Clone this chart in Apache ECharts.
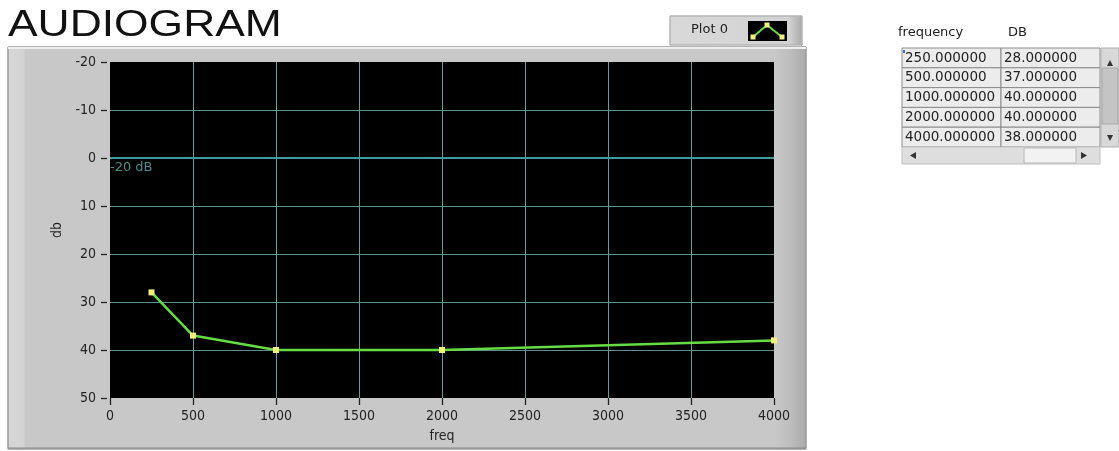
<!DOCTYPE html>
<html>
<head>
<meta charset="utf-8">
<script src="https://cdn.jsdelivr.net/npm/echarts@6/dist/echarts.min.js"></script>
<style>
html,body{margin:0;padding:0;background:#fff;}
#c{width:1119px;height:451px;}
</style>
</head>
<body>
<div id="c"></div>
<script>
// ---- data ----
const titleText = 'AUDIOGRAM';
const freqs = [250, 500, 1000, 2000, 4000];
const dbs = [28, 37, 40, 40, 38];
const xMin = 0, xMax = 4000, xStep = 500;
const yMin = -20, yMax = 50, yStep = 10;
const yTickValues = [-20, -10, 0, 10, 20, 30, 40, 50];
const cursorValue = 0;
const cursorLabel = '-20 dB';
const plotName = 'Plot 0';
const tableHeaders = ['frequency', 'DB'];
const xName = 'freq';
const yName = 'db';

const chart = echarts.init(document.getElementById('c'), null, {renderer: 'canvas'});

const tickFont = "'DejaVu Sans Condensed', 'DejaVu Sans', sans-serif";
const uiFont = "'DejaVu Sans', sans-serif";

const g = [];
// gray panel
g.push({type:'rect', z:-10, shape:{x:8, y:47, width:798, height:402},
  style:{fill:new echarts.graphic.LinearGradient(0,0,1,0,[
    {offset:0, color:'#d6d6d6'},{offset:0.02, color:'#d4d4d4'},{offset:0.022, color:'#c8c8c8'},
    {offset:0.96, color:'#c8c8c8'},{offset:0.98, color:'#bdbdbd'},{offset:1, color:'#a9a9a9'}]),
    stroke:'#9a9a9a', lineWidth:1}});
g.push({type:'line', z:-9, shape:{x1:8, y1:48, x2:806, y2:48}, style:{stroke:'#eeeeee', lineWidth:2}});
g.push({type:'line', z:-9, shape:{x1:8, y1:448, x2:806, y2:448}, style:{stroke:'#8a8a8a', lineWidth:1}});

// title
g.push({type:'text', x:8, y:7, scaleX:1.2, style:{text:titleText, font:"37px 'Liberation Sans', Arial, sans-serif", fill:'#111'}});

// legend box
g.push({type:'rect', shape:{x:670, y:16, width:132, height:29},
  style:{fill:new echarts.graphic.LinearGradient(0,0,1,0,[
    {offset:0,color:'#d9d9d9'},{offset:0.9,color:'#d2d2d2'},{offset:1,color:'#a8a8a8'}]), stroke:'#b5b5b5', lineWidth:1}});
g.push({type:'text', x:691, y:23, style:{text:plotName, font:"13px "+uiFont, fill:'#222'}});
g.push({type:'rect', shape:{x:748, y:21, width:39, height:20}, style:{fill:'#000'}});
g.push({type:'polyline', shape:{points:[[753,37],[767,25],[782,37]]}, style:{stroke:'#66dc44', lineWidth:2, fill:null}});
[[753,37],[767,25],[782,37]].forEach(p=>{
  g.push({type:'rect', shape:{x:p[0]-2.5, y:p[1]-2.5, width:5, height:5}, style:{fill:'#f0f080'}});
});

// table
g.push({type:'text', x:898, y:26, style:{text:tableHeaders[0], font:"13px "+uiFont, fill:'#222'}});
g.push({type:'text', x:1008, y:26, style:{text:tableHeaders[1], font:"13px "+uiFont, fill:'#222'}});
const tTop = 48, rowH = 19.8, c0 = 902, c1 = 1001, c2 = 1100;
freqs.forEach((f,i)=>{
  const y = tTop + i*rowH;
  g.push({type:'rect', shape:{x:c0, y:y, width:c1-c0, height:rowH}, style:{fill:'#ececec', stroke:'#8c8c8c', lineWidth:1}});
  g.push({type:'rect', shape:{x:c1, y:y, width:c2-c1, height:rowH}, style:{fill:'#ececec', stroke:'#8c8c8c', lineWidth:1}});
  g.push({type:'text', x:c0+3, y:y+3, style:{text:f.toFixed(6), font:"13.5px "+uiFont, fill:'#222'}});
  g.push({type:'text', x:c1+3, y:y+3, style:{text:dbs[i].toFixed(6), font:"13.5px "+uiFont, fill:'#222'}});
});
const tBottom = tTop + freqs.length*rowH;
// vertical scrollbar
g.push({type:'rect', shape:{x:c2+1, y:tTop, width:18, height:tBottom-tTop}, style:{fill:'#d8d8d8', stroke:'#b0b0b0', lineWidth:1}});
g.push({type:'rect', shape:{x:c2+2, y:tTop+20, width:16, height:56}, style:{fill:'#c4c4c4', stroke:'#a8a8a8', lineWidth:1}});
g.push({type:'polygon', shape:{points:[[1107,66],[1110,60],[1113,66]]}, style:{fill:'#333'}});
g.push({type:'polygon', shape:{points:[[1107,135],[1110,141],[1113,135]]}, style:{fill:'#333'}});
// horizontal scrollbar
g.push({type:'rect', shape:{x:c0, y:tBottom, width:c2-c0, height:17}, style:{fill:'#dedede', stroke:'#c0c0c0', lineWidth:1}});
g.push({type:'rect', shape:{x:1024, y:tBottom+1, width:52, height:15}, style:{fill:'#f2f2f2', stroke:'#b8b8b8', lineWidth:1}});
g.push({type:'polygon', shape:{points:[[916,tBottom+5],[910,tBottom+8.5],[916,tBottom+12]]}, style:{fill:'#333'}});
g.push({type:'polygon', shape:{points:[[1081,tBottom+5],[1087,tBottom+8.5],[1081,tBottom+12]]}, style:{fill:'#333'}});
g.push({type:'rect', shape:{x:903, y:50, width:2, height:3}, style:{fill:'#3a6ec0'}});

const plainNum = v => String(v);

const option = {
  animation:false,
  backgroundColor:'#ffffff',
  grid:{left:110, top:62, width:664, height:336, show:true, backgroundColor:'#000000', borderWidth:0},
  xAxis:{
    type:'value', min:xMin, max:xMax, interval:xStep,
    name:xName, nameLocation:'middle', nameGap:31,
    nameTextStyle:{fontFamily:tickFont, fontSize:14, color:'#222'},
    axisLine:{show:true, onZero:false, lineStyle:{color:'rgba(0,0,0,0)'}},
    axisTick:{show:true, length:7, inside:false, lineStyle:{color:'#222', width:1.3}},
    axisLabel:{margin:11, fontFamily:tickFont, fontSize:14, color:'#222', formatter:plainNum},
    splitLine:{show:true, showMinLine:false, showMaxLine:false, lineStyle:{color:'#6e9c9c', width:1}}
  },
  yAxis:{
    type:'value', min:yMin, max:yMax, interval:yStep, inverse:true,
    name:yName, nameLocation:'middle', nameGap:40, nameRotate:90,
    nameTextStyle:{fontFamily:tickFont, fontSize:14, color:'#222'},
    axisLine:{show:false},
    axisTick:{show:false},
    axisLabel:{margin:14, fontFamily:tickFont, fontSize:14, color:'#222', formatter:plainNum},
    splitLine:{show:true, showMinLine:false, showMaxLine:false, lineStyle:{color:'#5f8f8f', width:1}}
  },
  graphic:g,
  series:[{
    type:'line', name:plotName,
    data:freqs.map((f,i)=>[f, dbs[i]]),
    symbol:'rect', symbolSize:6, showAllSymbol:true,
    lineStyle:{color:'#66dc44', width:2.5},
    itemStyle:{color:'#f0f07a', borderWidth:0},
    clip:false,
    markLine:{
      silent:true, symbol:'none', animation:false,
      data:[{yAxis:cursorValue}],
      lineStyle:{color:'#3f9a9a', width:2, type:'solid'},
      label:{show:true, position:'insideStartBottom', formatter:cursorLabel, color:'#4a8a8a', fontFamily:uiFont, fontSize:13, distance:[0,3]}
    }
  }]
};
chart.setOption(option);

// y-axis tick marks placed through the axis scale
const gx = chart.convertToPixel({xAxisIndex:0}, xMin);
const ticks = yTickValues.map(v => {
  const py = Math.round(chart.convertToPixel({yAxisIndex:0}, v)) + 0.5;
  return {type:'line', shape:{x1:gx-9, y1:py, x2:gx-3, y2:py}, style:{stroke:'#222', lineWidth:1.3}};
});
chart.setOption({graphic: g.concat(ticks)});
</script>
</body>
</html>
